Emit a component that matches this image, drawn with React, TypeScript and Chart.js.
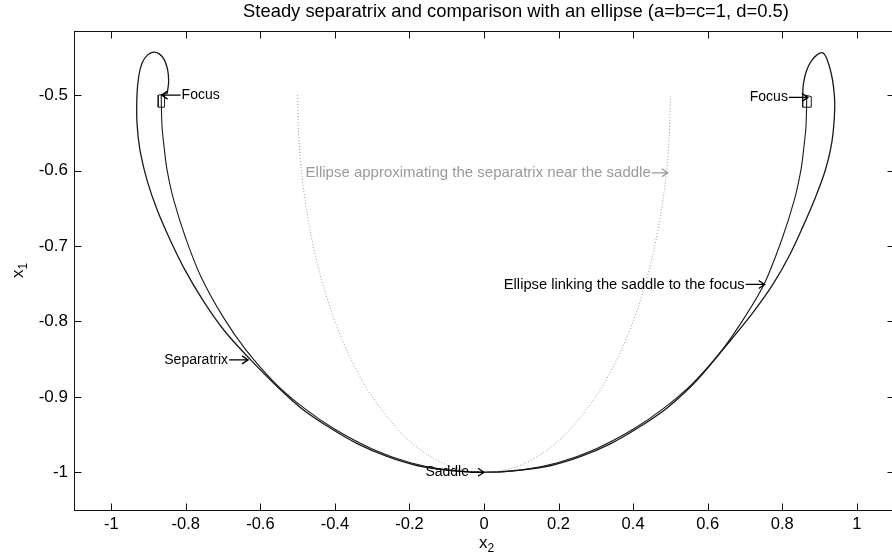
import React, { useEffect, useRef } from "react";
import { Chart, registerables } from "chart.js";

Chart.register(...registerables);

const TITLE = "Steady separatrix and comparison with an ellipse (a=b=c=1, d=0.5)";
const X_TITLE = ["x", "2"];
const Y_TITLE = ["x", "1"];

const X_TICKS = [-1, -0.8, -0.6, -0.4, -0.2, 0, 0.2, 0.4, 0.6, 0.8, 1];
const X_TICK_LABELS = ["-1", "-0.8", "-0.6", "-0.4", "-0.2", "0", "0.2", "0.4", "0.6", "0.8", "1"];
const Y_TICKS = [-1, -0.9, -0.8, -0.7, -0.6, -0.5];
const Y_TICK_LABELS = ["-1", "-0.9", "-0.8", "-0.7", "-0.6", "-0.5"];

// Separatrix: left focus -> left loop -> saddle -> right loop -> right focus
const SEPARATRIX_X = [
  -0.850, -0.846, -0.849, -0.858, -0.872, -0.887, -0.903, -0.917, -0.926,
  -0.931, -0.931, -0.923, -0.904, -0.877, -0.842, -0.802, -0.754, -0.697,
  -0.626, -0.560, -0.493, -0.420, -0.340, -0.260, -0.180, -0.100, 0.000,
  0.100, 0.180, 0.260, 0.340, 0.420, 0.493, 0.560, 0.600, 0.660, 0.722, 0.775, 0.818, 0.855,
  0.888, 0.916, 0.934, 0.941, 0.938, 0.931, 0.920, 0.909, 0.895, 0.878, 0.865,
  0.857, 0.855,
];
const SEPARATRIX_Y = [
  -0.498, -0.482, -0.466, -0.453, -0.445, -0.443, -0.447, -0.457, -0.474,
  -0.500, -0.537, -0.573, -0.613, -0.652, -0.692, -0.732, -0.772, -0.812,
  -0.851, -0.884, -0.914, -0.939, -0.962, -0.979, -0.991, -0.997, -1.000,
  -0.997, -0.991, -0.979, -0.962, -0.939, -0.914, -0.884, -0.862, -0.826, -0.788, -0.751, -0.714, -0.675,
  -0.637, -0.599, -0.560, -0.516, -0.490, -0.470, -0.452, -0.444, -0.446, -0.455, -0.468,
  -0.485, -0.500,
];

// Small square traced by the separatrix around each focus
const FOCUS_LEFT_X = [-0.850, -0.874, -0.874, -0.857, -0.857];
const FOCUS_LEFT_Y = [-0.498, -0.500, -0.516, -0.516, -0.500];
const FOCUS_RIGHT_X = [0.855, 0.855, 0.878, 0.878, 0.862];
const FOCUS_RIGHT_Y = [-0.500, -0.516, -0.516, -0.502, -0.500];

// Ellipse linking the saddle to the focus (solid)
const LINK_X = [
  -0.866, -0.864, -0.858, -0.850, -0.832, -0.800, -0.760, -0.700, -0.640, -0.560, -0.480, -0.400,
  -0.300, -0.200, -0.100, 0.000, 0.100, 0.200, 0.300, 0.400, 0.480, 0.560, 0.640, 0.700, 0.753,
  0.800, 0.832, 0.850, 0.858, 0.864, 0.866,
];
const LINK_Y = [
  -0.500, -0.540, -0.570, -0.600, -0.640, -0.690, -0.740, -0.794, -0.837, -0.882, -0.916, -0.943,
  -0.969, -0.987, -0.997, -1.000, -0.997, -0.987, -0.969, -0.943, -0.916, -0.882, -0.837, -0.794, -0.749,
  -0.690, -0.640, -0.600, -0.570, -0.540, -0.500,
];

// Ellipse approximating the separatrix near the saddle (grey dotted)
const NEAR_X = [
  -0.500, -0.497, -0.490, -0.476, -0.458, -0.433, -0.400, -0.357, -0.300, -0.218, -0.150, -0.080, 0.000,
  0.080, 0.150, 0.218, 0.300, 0.357, 0.400, 0.433, 0.458, 0.476, 0.490, 0.497, 0.500,
];
const NEAR_Y = [
  -0.500, -0.555, -0.600, -0.653, -0.700, -0.750, -0.800, -0.850, -0.900, -0.950, -0.977, -0.994, -1.000,
  -0.994, -0.977, -0.950, -0.900, -0.850, -0.800, -0.750, -0.700, -0.653, -0.600, -0.555, -0.500,
];

// Annotations: text, arrow tip (data coords)
const NOTE_TEXT = [
  "Focus",
  "Focus",
  "Ellipse approximating the separatrix near the saddle",
  "Ellipse linking the saddle to the focus",
  "Separatrix",
  "Saddle",
];
const NOTE_X = [-0.865, 0.869, 0.493, 0.753, -0.633, 0.0];
const NOTE_Y = [-0.500, -0.503, -0.603, -0.751, -0.851, -1.0];
const NOTE_SIDE = ["right", "left", "left", "left", "left", "left"];
const NOTE_COLOR = ["#000", "#000", "#9a9a9a", "#000", "#000", "#000"];
const NOTE_SIZE = [14, 14, 15, 14.7, 14, 14];
const NOTE_ARROW = [19, 19, 16, 19, 19, 14];

const FONT = "'Liberation Sans', Arial, Helvetica, sans-serif";

function pts(xs: number[], ys: number[]) {
  return xs.map((x, i) => ({ x, y: ys[i] }));
}

const drawPlugin = {
  id: "matlabFrame",
  afterDraw(chart: any) {
    const ctx = chart.ctx as CanvasRenderingContext2D;
    const xs = chart.scales.x;
    const ys = chart.scales.y;
    const a = chart.chartArea;
    ctx.save();
    ctx.strokeStyle = "#111";
    ctx.lineWidth = 1;
    const L = Math.round(a.left) + 0.5;
    const R = Math.round(a.right) + 0.5;
    const T = Math.round(a.top) + 0.5;
    const B = Math.round(a.bottom) + 0.5;
    ctx.strokeRect(L, T, R - L, B - T);
    const tl = 7;
    ctx.beginPath();
    X_TICKS.forEach((v) => {
      const p = Math.round(xs.getPixelForValue(v)) + 0.5;
      ctx.moveTo(p, B);
      ctx.lineTo(p, B - tl);
      ctx.moveTo(p, T);
      ctx.lineTo(p, T + tl);
    });
    Y_TICKS.forEach((v) => {
      const p = Math.round(ys.getPixelForValue(v)) + 0.5;
      ctx.moveTo(L, p);
      ctx.lineTo(L + tl, p);
      ctx.moveTo(R, p);
      ctx.lineTo(R - tl, p);
    });
    ctx.stroke();

    // title
    ctx.fillStyle = "#000";
    ctx.textAlign = "center";
    ctx.textBaseline = "middle";
    ctx.font = `18.4px ${FONT}`;
    ctx.fillText(TITLE, 516, 12);

    // x axis title
    ctx.font = `17px ${FONT}`;
    ctx.textAlign = "left";
    const xw = ctx.measureText(X_TITLE[0]).width;
    ctx.fillText(X_TITLE[0], 479, 543);
    ctx.font = `12px ${FONT}`;
    ctx.fillText(X_TITLE[1], 479 + xw, 549);

    // y axis title (rotated)
    ctx.save();
    ctx.translate(18, 272);
    ctx.rotate(-Math.PI / 2);
    ctx.font = `17px ${FONT}`;
    ctx.textAlign = "left";
    ctx.fillText(Y_TITLE[0], -6, 0);
    const yw = ctx.measureText(Y_TITLE[0]).width;
    ctx.font = `12px ${FONT}`;
    ctx.fillText(Y_TITLE[1], -6 + yw, 6);
    ctx.restore();

    // annotations
    ctx.textBaseline = "middle";
    NOTE_TEXT.forEach((t, i) => {
      const tx = xs.getPixelForValue(NOTE_X[i]);
      const ty = ys.getPixelForValue(NOTE_Y[i]);
      const len = NOTE_ARROW[i];
      const dir = NOTE_SIDE[i] === "left" ? 1 : -1; // arrow direction toward tip
      const start = tx - dir * len;
      ctx.font = `${NOTE_SIZE[i]}px ${FONT}`;
      ctx.strokeStyle = NOTE_COLOR[i];
      ctx.fillStyle = NOTE_COLOR[i];
      ctx.lineWidth = 1.3;
      ctx.beginPath();
      ctx.moveTo(start, ty);
      ctx.lineTo(tx, ty);
      ctx.moveTo(tx - dir * 6, ty - 4);
      ctx.lineTo(tx, ty);
      ctx.lineTo(tx - dir * 6, ty + 4);
      ctx.stroke();
      if (dir === 1) {
        ctx.textAlign = "right";
        ctx.fillText(t, start - 1, ty);
      } else {
        ctx.textAlign = "left";
        ctx.fillText(t, start + 1, ty);
      }
    });
    ctx.restore();
  },
};

export default function App() {
  const ref = useRef<HTMLCanvasElement | null>(null);
  useEffect(() => {
    if (!ref.current) return;
    const solid = (data: any, width: number, tension: number) => ({
      data,
      showLine: true,
      borderColor: "#1a1a1a",
      borderWidth: width,
      pointRadius: 0,
      fill: false,
      tension,
    });
    const chart = new Chart(ref.current, {
      type: "scatter",
      data: {
        datasets: [
          {
            label: "Ellipse approximating the separatrix near the saddle",
            data: pts(NEAR_X, NEAR_Y),
            showLine: true,
            borderColor: "#9c9c9c",
            borderWidth: 1,
            borderDash: [1, 2],
            pointRadius: 0,
            fill: false,
            tension: 0.3,
          },
          { label: "Ellipse linking the saddle to the focus", ...solid(pts(LINK_X, LINK_Y), 1.1, 0.35) },
          { label: "Separatrix", ...solid(pts(SEPARATRIX_X, SEPARATRIX_Y), 1.3, 0.35) },
          { label: "Focus (left)", ...solid(pts(FOCUS_LEFT_X, FOCUS_LEFT_Y), 1, 0) },
          { label: "Focus (right)", ...solid(pts(FOCUS_RIGHT_X, FOCUS_RIGHT_Y), 1, 0) },
        ],
      },
      options: {
        responsive: false,
        animation: false,
        devicePixelRatio: 1,
        layout: { padding: { top: 31, right: 6, left: 0, bottom: 0 } },
        plugins: {
          legend: { display: false },
          tooltip: { enabled: false },
          title: { display: false },
        },
        scales: {
          x: {
            type: "linear",
            min: -1.1,
            max: 1.1,
            grid: { display: false, drawTicks: false },
            border: { display: false },
            ticks: {
              padding: 5,
              color: "#000",
              font: { family: FONT, size: 16.5 },
              maxRotation: 0,
              autoSkip: false,
              callback: (v: any) => {
                const i = X_TICKS.findIndex((t) => Math.abs(t - Number(v)) < 1e-9);
                return i >= 0 ? X_TICK_LABELS[i] : "";
              },
            },
            afterBuildTicks: (s: any) => {
              s.ticks = X_TICKS.map((v) => ({ value: v }));
            },
            afterFit: (s: any) => {
              s.height = 48;
            },
          },
          y: {
            type: "linear",
            min: -1.05,
            max: -0.415,
            grid: { display: false, drawTicks: false },
            border: { display: false },
            ticks: {
              padding: 6,
              color: "#000",
              font: { family: FONT, size: 17 },
              autoSkip: false,
              callback: (v: any) => {
                const i = Y_TICKS.findIndex((t) => Math.abs(t - Number(v)) < 1e-9);
                return i >= 0 ? Y_TICK_LABELS[i] : "";
              },
            },
            afterBuildTicks: (s: any) => {
              s.ticks = Y_TICKS.map((v) => ({ value: v }));
            },
            afterFit: (s: any) => {
              s.width = 74;
            },
          },
        },
      },
      plugins: [drawPlugin],
    });
    return () => chart.destroy();
  }, []);
  return (
    <div
      style={{
        position: "fixed",
        left: 0,
        top: 0,
        width: 892,
        height: 558,
        overflow: "hidden",
        background: "#fff",
      }}
    >
      <canvas ref={ref} width={900} height={558} style={{ display: "block", width: 900, height: 558 }} />
    </div>
  );
}
